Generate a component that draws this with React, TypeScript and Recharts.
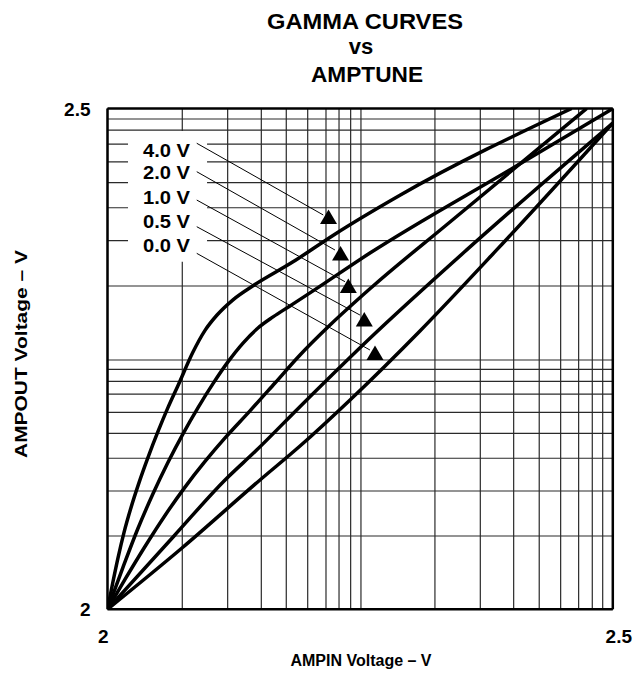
import React from 'react';
import {
  ComposedChart,
  Line,
  Scatter,
  XAxis,
  YAxis,
  CartesianGrid,
  ReferenceArea,
  ReferenceLine,
} from 'recharts';

const FONT = '"Liberation Sans", Arial, Helvetica, sans-serif';

// Axis range and the only labelled ticks
const AXIS_MIN = 2;
const AXIS_MAX = 2.5;
const TICK_LABELS = ['2', '2.5'];

// Graph-paper rulings (log-style spacing), in axis units
const GRID_X = [2.074, 2.1189, 2.1522, 2.1769, 2.1981, 2.2162, 2.2291, 2.2406, 2.2508, 2.324, 2.3689, 2.4019, 2.4272, 2.4484, 2.4662, 2.4797, 2.49];
const GRID_Y = [2.0732, 2.1181, 2.1508, 2.1757, 2.1967, 2.2149, 2.2276, 2.2396, 2.2489, 2.3228, 2.368, 2.4009, 2.4259, 2.4468, 2.4645, 2.4785, 2.4895];

// AMPTUNE settings
const AMPTUNE_LABELS = ['4.0 V', '2.0 V', '1.0 V', '0.5 V', '0.0 V'];

// Curves: AMPIN (x) and AMPOUT (y)
const VIN_40 = [2.0, 2.0054, 2.0104, 2.0163, 2.0233, 2.0312, 2.0401, 2.05, 2.0599, 2.0698, 2.0846, 2.0965, 2.1084, 2.1242, 2.144, 2.1836, 2.2231, 2.2894, 2.4593];
const VOUT_40 = [2.0, 2.0275, 2.0514, 2.0766, 2.1017, 2.1265, 2.1517, 2.1776, 2.2016, 2.2235, 2.2569, 2.2785, 2.2938, 2.309, 2.323, 2.3469, 2.3733, 2.4134, 2.5];

const VIN_20 = [2.0, 2.0153, 2.0302, 2.045, 2.0599, 2.0747, 2.0896, 2.1044, 2.1192, 2.1341, 2.1489, 2.1638, 2.1806, 2.2034, 2.2597, 2.4012, 2.5];
const VOUT_20 = [2.0, 2.0419, 2.0809, 2.1153, 2.1468, 2.1752, 2.2014, 2.2253, 2.247, 2.2658, 2.2808, 2.2919, 2.3029, 2.3179, 2.3557, 2.4406, 2.5];

const VIN_10 = [2.0, 2.0173, 2.0371, 2.0569, 2.0767, 2.0965, 2.1163, 2.141, 2.1657, 2.1905, 2.2202, 2.2617, 2.3389, 2.4742];
const VOUT_10 = [2.0, 2.0298, 2.0627, 2.0937, 2.122, 2.1476, 2.1711, 2.1981, 2.2259, 2.2539, 2.2838, 2.3218, 2.3867, 2.5];

const VIN_05 = [2.0, 2.0658, 2.1163, 2.1476, 2.1904, 2.2597, 2.3554, 2.5];
const VOUT_05 = [2.0, 2.0732, 2.1291, 2.159, 2.2023, 2.2706, 2.3588, 2.4855];

const VIN_00 = [2.0, 2.0737, 2.1509, 2.1905, 2.24, 2.3092, 2.3851, 2.5];
const VOUT_00 = [2.0, 2.0612, 2.1291, 2.163, 2.209, 2.2779, 2.3588, 2.4855];

// Callout arrow heads on the curves
const ARROW_X = [2.2187, 2.2306, 2.2383, 2.2541, 2.2647];
const ARROW_Y = [2.3912, 2.3547, 2.3223, 2.2888, 2.2554];

// Leader lines: start (near label) and end (at arrow head)
const LEADER_X0 = [2.0883, 2.0883, 2.0883, 2.0883, 2.0883];
const LEADER_Y0 = [2.4653, 2.4369, 2.4086, 2.382, 2.3554];
const LEADER_X1 = [2.2135, 2.2251, 2.235, 2.2498, 2.2597];
const LEADER_Y1 = [2.3937, 2.3587, 2.3271, 2.2938, 2.2589];

// Callout label anchors (right edge of text, vertical centre)
const LABEL_X = [2.0816, 2.0816, 2.0816, 2.0816, 2.0816];
const LABEL_Y = [2.4577, 2.4363, 2.4109, 2.387, 2.3637];

// White panel behind the callout labels
const LABEL_PANEL_X = [2.0203, 2.0985];
const LABEL_PANEL_Y = [2.347, 2.4775];

const zip = (xs: number[], ys: number[]) => xs.map((x, i) => ({ x, y: ys[i] }));

const CURVES = [
  zip(VIN_40, VOUT_40),
  zip(VIN_20, VOUT_20),
  zip(VIN_10, VOUT_10),
  zip(VIN_05, VOUT_05),
  zip(VIN_00, VOUT_00),
];

const LEADERS = LEADER_X0.map((x0, i) => [
  { x: x0, y: LEADER_Y0[i] },
  { x: LEADER_X1[i], y: LEADER_Y1[i] },
]);

const ARROWS = zip(ARROW_X, ARROW_Y);
const LABELS = LABEL_X.map((x, i) => ({ x, y: LABEL_Y[i], label: AMPTUNE_LABELS[i] }));

const X_TICKS = [AXIS_MIN, ...GRID_X, AXIS_MAX];
const Y_TICKS = [AXIS_MIN, ...GRID_Y, AXIS_MAX];

const XTick = (props: any) => {
  const { x, y, payload } = props;
  const v = payload.value;
  if (v !== AXIS_MIN && v !== AXIS_MAX) return <g />;
  const isMax = v === AXIS_MAX;
  return (
    <text
      x={x}
      y={y}
      dx={isMax ? 6 : 1}
      dy={34}
      textAnchor={isMax ? 'middle' : 'end'}
      fontFamily={FONT}
      fontWeight="bold"
      fontSize={19}
      fill="#000"
    >
      {isMax ? TICK_LABELS[1] : TICK_LABELS[0]}
    </text>
  );
};

const YTick = (props: any) => {
  const { x, y, payload } = props;
  const v = payload.value;
  if (v !== AXIS_MIN && v !== AXIS_MAX) return <g />;
  const isMax = v === AXIS_MAX;
  return (
    <text
      x={x}
      y={y}
      dx={-17}
      dy={7}
      textAnchor="end"
      fontFamily={FONT}
      fontWeight="bold"
      fontSize={19}
      fill="#000"
    >
      {isMax ? TICK_LABELS[1] : TICK_LABELS[0]}
    </text>
  );
};

const ArrowHead = (props: any) => {
  const { cx, cy } = props;
  if (cx == null || cy == null) return <g />;
  const pts = `${cx},${cy - 8} ${cx - 8.5},${cy + 6.5} ${cx + 8.5},${cy + 6.5}`;
  return <polygon points={pts} fill="#000" />;
};

const CalloutText = (props: any) => {
  const { cx, cy, payload } = props;
  if (cx == null || cy == null) return <g />;
  return (
    <text
      x={cx}
      y={cy}
      dy={6.5}
      textAnchor="end"
      fontFamily={FONT}
      fontWeight="bold"
      fontSize={18}
      textLength={47}
      lengthAdjust="spacingAndGlyphs"
      fill="#000"
    >
      {payload.label}
    </text>
  );
};

export default function App() {
  return (
    <div style={{ position: 'absolute', left: 0, top: 0, width: 636, height: 682, background: '#fff' }}>
      <ComposedChart
        width={636}
        height={682}
        margin={{ top: 108.5, right: 23.2, bottom: 32.7, left: 47.5 }}
      >
        <CartesianGrid stroke="#2a2a2a" strokeWidth={1.2} />
        <ReferenceArea
          x1={LABEL_PANEL_X[0]}
          x2={LABEL_PANEL_X[1]}
          y1={LABEL_PANEL_Y[0]}
          y2={LABEL_PANEL_Y[1]}
          fill="#fff"
          fillOpacity={1}
          stroke="none"
        />
        <XAxis
          type="number"
          dataKey="x"
          domain={[AXIS_MIN, AXIS_MAX]}
          ticks={X_TICKS}
          interval={0}
          tick={XTick}
          tickLine={false}
          tickSize={0}
          tickMargin={0}
          axisLine={{ stroke: '#000', strokeWidth: 2.5 }}
          height={40}
          allowDataOverflow
        />
        <YAxis
          type="number"
          dataKey="y"
          domain={[AXIS_MIN, AXIS_MAX]}
          ticks={Y_TICKS}
          interval={0}
          tick={YTick}
          tickLine={false}
          tickSize={0}
          tickMargin={0}
          axisLine={{ stroke: '#000', strokeWidth: 2.5 }}
          width={60}
          allowDataOverflow
        />
        <ReferenceLine y={AXIS_MAX} stroke="#000" strokeWidth={2.5} />
        <ReferenceLine x={AXIS_MAX} stroke="#000" strokeWidth={2.5} />
        {CURVES.map((d, i) => (
          <Line
            key={`c${i}`}
            data={d}
            dataKey="y"
            type="monotone"
            dot={false}
            activeDot={false}
            stroke="#000"
            strokeWidth={3.5}
            isAnimationActive={false}
          />
        ))}
        {LEADERS.map((d, i) => (
          <Line
            key={`l${i}`}
            data={d}
            dataKey="y"
            type="linear"
            dot={false}
            activeDot={false}
            stroke="#000"
            strokeWidth={1}
            isAnimationActive={false}
          />
        ))}
        <Scatter data={ARROWS} dataKey="y" shape={ArrowHead} isAnimationActive={false} />
        <Scatter data={LABELS} dataKey="y" shape={CalloutText} isAnimationActive={false} />
      </ComposedChart>
      <svg
        width={636}
        height={682}
        style={{ position: 'absolute', left: 0, top: 0, pointerEvents: 'none' }}
      >
        <g fontFamily={FONT} fontWeight="bold" fill="#000">
          <text x={365} y={28.5} textAnchor="middle" fontSize={22} textLength={196} lengthAdjust="spacingAndGlyphs">
            GAMMA CURVES
          </text>
          <text x={361} y={53.5} textAnchor="middle" fontSize={22}>
            vs
          </text>
          <text x={367} y={81.5} textAnchor="middle" fontSize={22} textLength={112} lengthAdjust="spacingAndGlyphs">
            AMPTUNE
          </text>
          <text x={361} y={666} textAnchor="middle" fontSize={16}>
            AMPIN Voltage – V
          </text>
          <text
            x={26.5}
            y={354}
            textAnchor="middle"
            fontSize={17}
            textLength={208}
            lengthAdjust="spacingAndGlyphs"
            transform="rotate(-90, 26.5, 354)"
          >
            AMPOUT Voltage – V
          </text>
        </g>
      </svg>
    </div>
  );
}
